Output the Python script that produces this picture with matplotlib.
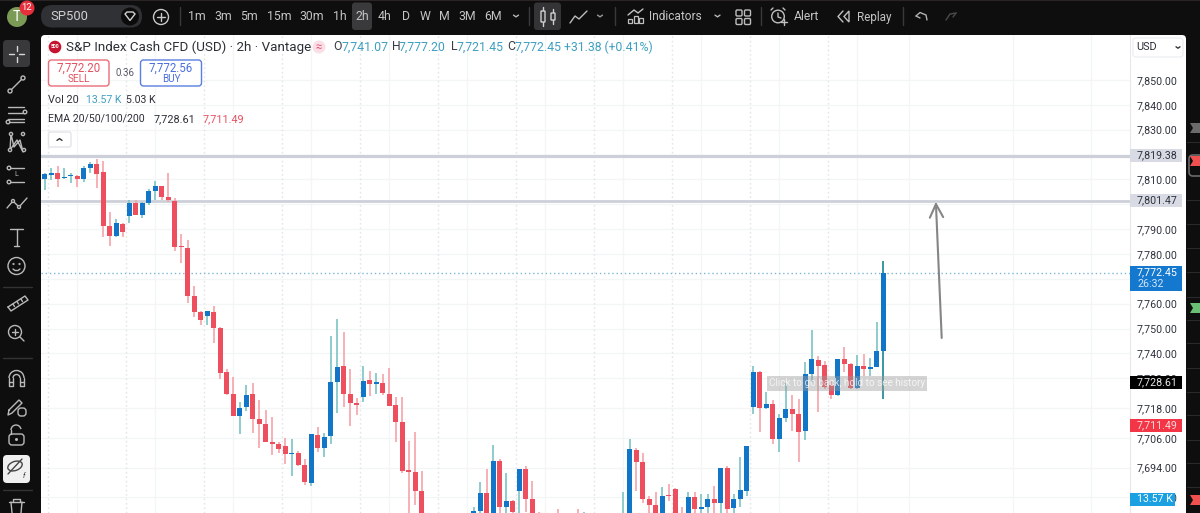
from __future__ import annotations

import matplotlib

matplotlib.use("Agg")
import matplotlib.pyplot as plt
import numpy as np
from matplotlib.patches import Arc, Circle, Ellipse, FancyBboxPatch, Polygon, Rectangle

nan = float("nan")

# bars that sit completely below the visible window are nan
opens = [
    7810.0, 7811.9, 7812.4, 7810.4, 7811.4, 7811.4, 7810.3, 7814.4, 7816.1, 7813.0,
    7791.1, 7787.2, 7792.0, 7795.2, 7800.4, 7795.7, 7800.7, 7805.5, 7807.2, 7802.9,
    7801.5, 7783.2, 7782.5, 7763.2, 7756.5, 7755.0, 7756.5, 7750.1, 7732.4, 7723.5,
    7714.9, 7718.3, 7723.5, 7713.4, 7711.7, 7704.3, 7703.7, 7702.6, 7699.4, 7700.0,
    7695.1, 7687.8, 7707.0, 7702.1, 7706.6, 7728.6, 7734.8, 7723.5, 7720.2, 7722.3,
    7729.2, 7727.8, 7727.9, 7723.8, 7719.1, 7712.5, 7692.8, 7692.3, 7684.7, nan,
    nan, nan, nan, nan, nan, nan, 7670.0, 7676.5, 7683.8, 7668.0,
    7696.5, 7678.3, 7680.4, 7684.7, 7693.4, 7681.5, 7674.0, nan, nan, 7674.0,
    nan, nan, 7674.0, 7670.0, nan, nan, nan, nan, nan, 7665.0,
    7670.0, 7701.1, 7696.4, 7681.2, 7679.1, 7672.0, 7683.0, 7685.3, 7674.0, 7674.0,
    7682.0, 7677.5, 7678.0, 7681.2, 7679.9, 7693.8, 7677.9, 7681.2, 7684.8, 7718.6,
    7732.4, 7717.9, 7719.8, 7705.5, 7714.1, 7717.6, 7715.7, 7708.8, 7731.7, 7737.3,
    7735.2, 7727.3, 7723.2, 7737.6, 7735.9, 7726.1, 7734.9, 7733.6, 7734.5, 7741.07,
]
highs = [
    7812.6, 7814.4, 7815.4, 7814.4, 7812.7, 7811.8, 7815.4, 7817.1, 7818.1, 7817.4,
    7796.9, 7794.2, 7792.6, 7801.7, 7801.7, 7801.0, 7806.0, 7809.5, 7807.5, 7812.7,
    7802.6, 7788.0, 7785.6, 7767.1, 7757.2, 7757.2, 7759.2, 7750.5, 7733.6, 7730.6,
    7720.3, 7727.1, 7727.9, 7721.2, 7717.4, 7714.3, 7704.5, 7706.1, 7705.5, 7700.7,
    7697.4, 7707.5, 7710.5, 7708.1, 7747.0, 7753.8, 7748.5, 7733.6, 7721.9, 7734.9,
    7732.9, 7732.0, 7731.7, 7734.0, 7722.4, 7722.6, 7704.7, 7708.5, 7692.8, nan,
    nan, nan, nan, nan, nan, nan, 7678.3, 7688.3, 7693.4, 7703.1,
    7697.3, 7691.7, 7681.0, 7693.4, 7694.6, 7688.6, 7676.3, nan, nan, 7677.2,
    nan, nan, 7677.2, 7676.3, nan, nan, nan, nan, nan, 7684.3,
    7705.5, 7701.8, 7699.8, 7682.6, 7684.1, 7686.3, 7687.4, 7685.9, 7678.3, 7684.1,
    7684.1, 7683.4, 7683.6, 7686.6, 7693.9, 7694.8, 7683.4, 7698.2, 7702.8, 7734.9,
    7733.0, 7724.3, 7721.2, 7715.6, 7727.9, 7723.2, 7721.6, 7736.4, 7749.4, 7738.9,
    7737.1, 7729.0, 7737.6, 7742.4, 7736.0, 7739.2, 7739.9, 7738.0, 7752.8, 7777.20,
]
lows = [
    7805.7, 7809.8, 7807.1, 7810.0, 7808.4, 7807.1, 7809.1, 7812.4, 7806.4, 7786.9,
    7783.3, 7786.7, 7786.7, 7792.6, 7795.7, 7794.6, 7799.7, 7801.7, 7801.7, 7801.0,
    7781.3, 7776.5, 7760.1, 7754.8, 7751.4, 7751.4, 7744.0, 7729.6, 7723.1, 7714.9,
    7707.4, 7716.9, 7707.8, 7702.1, 7704.2, 7699.1, 7699.8, 7695.6, 7690.8, 7694.7,
    7686.9, 7686.8, 7700.4, 7698.4, 7703.5, 7715.9, 7718.6, 7710.8, 7715.2, 7720.3,
    7722.8, 7723.6, 7723.2, 7718.8, 7704.2, 7691.7, 7670.0, 7679.0, 7668.0, nan,
    nan, nan, nan, nan, nan, nan, 7668.0, 7672.0, 7667.0, 7665.0,
    7674.0, 7674.0, 7672.0, 7674.0, 7676.3, 7668.0, 7665.0, nan, nan, 7666.0,
    nan, nan, 7667.0, 7666.0, nan, nan, nan, nan, nan, 7662.0,
    7667.0, 7684.7, 7679.6, 7674.0, 7669.0, 7670.0, 7680.7, 7669.0, 7668.0, 7671.0,
    7675.0, 7674.0, 7675.7, 7674.0, 7674.0, 7674.0, 7675.7, 7678.0, 7682.6, 7715.5,
    7708.2, 7717.8, 7703.5, 7700.2, 7712.5, 7708.8, 7696.2, 7705.1, 7728.6, 7716.5,
    7725.5, 7721.6, 7722.8, 7732.6, 7725.5, 7725.5, 7730.9, 7730.9, 7734.4, 7721.45,
]
closes = [
    7812.2, 7812.4, 7810.0, 7811.1, 7811.9, 7810.0, 7814.4, 7816.1, 7812.3, 7791.2,
    7787.1, 7792.3, 7789.0, 7800.4, 7795.7, 7800.7, 7805.5, 7807.2, 7803.0, 7801.7,
    7782.7, 7782.8, 7763.2, 7756.5, 7753.3, 7756.9, 7750.1, 7732.2, 7723.5, 7714.9,
    7718.2, 7723.2, 7713.4, 7711.7, 7704.2, 7703.7, 7701.7, 7699.4, 7700.0, 7695.1,
    7688.1, 7707.4, 7702.1, 7706.5, 7728.5, 7734.6, 7723.5, 7720.2, 7719.4, 7728.9,
    7727.7, 7728.3, 7723.9, 7718.8, 7712.5, 7692.7, 7692.4, 7684.8, 7672.0, nan,
    nan, nan, nan, nan, nan, nan, 7676.5, 7683.8, 7670.0, 7696.5,
    7678.3, 7680.4, 7676.1, 7693.4, 7681.5, 7670.0, 7668.0, nan, nan, 7670.0,
    nan, nan, 7670.0, 7674.0, nan, nan, nan, nan, nan, 7672.0,
    7701.4, 7696.4, 7681.2, 7679.0, 7672.0, 7682.6, 7682.6, 7672.0, 7670.0, 7682.0,
    7677.5, 7678.0, 7681.2, 7679.9, 7693.8, 7677.5, 7681.2, 7685.0, 7702.7, 7732.4,
    7718.0, 7719.8, 7705.5, 7713.9, 7717.6, 7715.7, 7708.5, 7731.6, 7737.6, 7735.1,
    7726.3, 7723.2, 7737.6, 7735.7, 7726.1, 7734.9, 7733.6, 7734.5, 7741.0, 7772.45,
]

grid_prices = [7850, 7840, 7830, 7820, 7810, 7800, 7790, 7780, 7770, 7760, 7750, 7740,
               7730, 7718, 7706, 7694, 7682]
# these three sit fully under the level and last-price tags, so they carry no tick text
hidden_ticks = [7820, 7800, 7770]
level_prices = [7819.38, 7801.47]
last_price = 7772.45
intervals = ["1m", "3m", "5m", "15m", "30m", "1h", "2h", "4h", "D", "W", "M", "3M", "6M"]
interval_x = [197, 223, 249, 279, 312, 340, 362, 385, 406, 425, 444, 467, 493]
dotted_grid_bars = [0.5, 12.5, 24.5, 36.5, 48.5, 60.5, 72.5, 84.5, 96.5, 108.5, 120.5]
solid_grid_bars = [5, 17, 29, 41, 53, 65, 77, 89, 101, 113, 125, 133, 149, 161]

DARK = "#0e0e0f"
ICON = "#b9b9b9"
UP = "#1175c8"
DOWN = "#ee4f5f"
UP_WICK = "#7cc3c6"
DOWN_WICK = "#f6a3aa"
TEAL = "#3f9fc0"
INK = "#2a2e39"
FONT = "Roboto"
AXIS_SIZE = 7.7
W, H = 1200, 513

plt.rcParams["font.family"] = [FONT, "DejaVu Sans"]

fig = plt.figure(figsize=(W / 100, H / 100), dpi=100, facecolor=DARK)

# back layer: dark frame and white panel, in pixels
back = fig.add_axes([0, 0, 1, 1], zorder=0)
back.set_xlim(0, W)
back.set_ylim(H, 0)
back.axis("off")
back.add_patch(FancyBboxPatch((41, 35), 1145, 500, boxstyle="round,pad=0,rounding_size=4",
                              fc="white", ec="none"))

# chart layer
left, right, top, bottom = 41, 1130, 35, 513
ax = fig.add_axes([left / W, 1 - bottom / H, (right - left) / W, (bottom - top) / H], zorder=1)
ax.patch.set_alpha(0)
ax.set_xlim(-0.57, 166.97)
ax.set_ylim(7675.76, 7868.1)
for spine in ax.spines.values():
    spine.set_visible(False)
ax.spines["right"].set_visible(True)
ax.spines["right"].set_color("#e6e8ec")
ax.yaxis.tick_right()
ax.set_yticks(grid_prices)
ax.set_yticklabels(["" if t in hidden_ticks else f"{t:,.2f}" for t in grid_prices],
                   fontsize=AXIS_SIZE, color="#2f333d")
ax.tick_params(axis="y", length=0, pad=5)
ax.set_xticks([])
ax.grid(False)
for t in grid_prices:
    ax.axhline(t, color="#f4f5f7", lw=1, zorder=0)
for b in solid_grid_bars:
    ax.axvline(b, color="#f4f5f7", lw=1, zorder=0)
for b in dotted_grid_bars:
    ax.axvline(b, color="#e3e5ea", lw=1, ls=(0, (1.2, 2)), zorder=0)

bar_index = np.arange(len(opens))
o, h, l, c = map(np.array, (opens, highs, lows, closes))
rising = c >= o
ax.vlines(bar_index, l, h, colors=np.where(rising, UP_WICK, DOWN_WICK).tolist(), lw=1.2, zorder=2)
ax.bar(bar_index, np.maximum(np.abs(c - o), 0.5), bottom=np.minimum(o, c), width=0.74,
       color=np.where(rising, UP, DOWN).tolist(), linewidth=0, zorder=3)
ax.vlines(bar_index[-1], l[-1], h[-1], colors="#2f8f9a", lw=1.2, zorder=2)

ax.axhline(level_prices[0], color="#cdd0d8", lw=2.3, zorder=1)
ax.axhline(level_prices[1], color="#cdd0d8", lw=2.0, zorder=1)
ax.axhline(last_price, color="#7db8d6", lw=1, ls=(0, (1, 2)), zorder=1)
ax.annotate("", xy=(137.1, 7801.0), xytext=(138, 7746.2),
            arrowprops=dict(arrowstyle="->", color="#858585", lw=1.5, mutation_scale=24,
                            shrinkA=0, shrinkB=0), zorder=4)

# front layer: toolbars, legend and price labels, in pixels
ui = fig.add_axes([0, 0, 1, 1], zorder=2)
ui.set_xlim(0, W)
ui.set_ylim(H, 0)
ui.axis("off")
ui.patch.set_alpha(0)


def text(x, y, s, size=8.5, color=INK, ha="left", weight="normal", **kw):
    return ui.text(x, y, s, fontsize=size, color=color, ha=ha, va="center", weight=weight, **kw)


def box(x0, y0, x1, y1, fc="none", ec="none", lw=1.0, r=3.0, z=2):
    ui.add_patch(FancyBboxPatch((x0, y0), x1 - x0, y1 - y0, boxstyle=f"round,pad=0,rounding_size={r}",
                                fc=fc, ec=ec, lw=lw, zorder=z))


def line(xs, ys, color=ICON, lw=1.0, z=3):
    ui.plot(xs, ys, color=color, lw=lw, solid_capstyle="round", zorder=z)


def ring(x, y, r, color=ICON, lw=1.0, fc="none", z=3):
    ui.add_patch(Circle((x, y), r, fc=fc, ec=color, lw=lw, zorder=z))


def chevron(x, y, color=ICON, size=2.5, up=False):
    d = -size * 0.7 if up else size * 0.7
    line([x - size, x, x + size], [y - d / 2, y + d / 2, y - d / 2], color=color, lw=1.0)


# top toolbar
ui.add_patch(Rectangle((0, 0), W, 33, fc=DARK, ec="none", zorder=1))
ui.add_patch(Rectangle((0, 0), W, 1.2, fc="#2b2426", ec="none", zorder=1))
ring(17, 17, 10, color="none", fc="#7b9a55")
text(17, 17, "T", size=10, color="white", ha="center")
ring(27, 8, 7.5, color="none", fc="#e5303b", z=4)
text(27, 8, "12", size=6.8, color="white", ha="center", zorder=5)
box(41, 5, 142, 27.5, fc="#303134", r=11)
text(50.5, 16.5, "SP500", size=9.4, color="#d0d0d0")
ring(130, 16.5, 9, color="none", fc="#0b0b0b")
ui.add_patch(Polygon([[125, 14], [127, 12], [133, 12], [135, 14], [130, 20.5]], closed=True,
                     fc="none", ec="#d0d0d0", lw=1, zorder=4))
ring(161, 17, 7.5, color="#c9c9c9", lw=1.0)
line([161, 161], [13, 21], color="#c9c9c9")
line([157, 165], [17, 17], color="#c9c9c9")
line([180, 180], [7, 25], color="#3a3a3a")
box(352, 2.5, 372, 30, fc="#3a3a3c", r=3)
for label, px in zip(intervals, interval_x):
    text(px, 17, label, size=8.8, color="#c4c4c4", ha="center")
chevron(516, 16)
line([529, 529], [7, 25], color="#3a3a3a")
box(534, 2.5, 561, 30, fc="#343436", r=3)
line([543, 543], [7, 26], color="#cfcfcf")
line([553, 553], [9, 24], color="#cfcfcf")
box(541, 11, 545, 22, fc="#343436", ec="#cfcfcf", lw=1, r=0.5, z=4)
box(551, 13, 555, 20, fc="#343436", ec="#cfcfcf", lw=1, r=0.5, z=4)
line([570, 575, 579, 587], [23, 16, 19, 11], color="#bdbdbd")
chevron(600, 16, color="#9a9a9a")
line([615, 615], [7, 25], color="#3a3a3a")
line([628, 634, 638, 643], [15, 10, 13, 9], color="#c0c0c0")
for ix, top_y in zip((628, 633.5, 639), (19, 16, 18)):
    ui.add_patch(Rectangle((ix, top_y), 4, 23 - top_y, fc="none", ec="#c0c0c0", lw=0.9, zorder=3))
text(649, 17, "Indicators", size=8.6, color="#c4c4c4")
chevron(717.5, 16)
for gx in (736, 744.5):
    for gy in (10, 18.5):
        box(gx, gy, gx + 6, gy + 6, ec="#bdbdbd", r=1.2)
line([761, 761], [7, 25], color="#3a3a3a")
ring(778, 16.5, 6.3, color="#c0c0c0")
line([778, 778, 781], [13, 17, 18], color="#c0c0c0")
line([771, 773], [10, 8], color="#c0c0c0")
line([785, 783], [10, 8], color="#c0c0c0")
line([781, 787], [22, 22], color="#c0c0c0")
line([784, 784], [19, 25], color="#c0c0c0")
text(794, 17, "Alert", size=8.7, color="#c4c4c4")
line([843, 838, 843], [11, 16.5, 22], color="#c0c0c0")
ui.add_patch(Polygon([[849, 11], [844, 16.5], [849, 22]], closed=True, fc="none", ec="#c0c0c0", lw=1, zorder=3))
text(857, 17, "Replay", size=8.4, color="#c4c4c4")
line([902.5, 902.5], [7, 25], color="#3a3a3a")
line([916, 920, 926, 927], [16, 12.5, 15, 20], color="#b0b0b0")
line([916, 920], [16, 18], color="#b0b0b0")
line([946, 950, 956], [20, 14, 13], color="#4a4a4a")
line([956, 953], [13, 17], color="#4a4a4a")

# left toolbar
box(3, 40, 30, 67, fc="#39393b", r=4)
for xa, xb, ya, yb in ((9, 14, 54, 54), (19, 24, 54, 54), (16.5, 16.5, 46, 51), (16.5, 16.5, 57, 62)):
    line([xa, xb], [ya, yb], color="#d8d8d8")
line([11, 22], [90, 79], color=ICON)
ring(10, 91, 2, fc=DARK)
ring(23, 78, 2, fc=DARK)
for fy, xa in ((107, 8), (113, 8), (119, 8), (122, 8)):
    line([xa, 24], [fy, fy], color=ICON)
ring(25, 112, 1.8, fc=DARK)
ring(8, 122, 1.8, fc=DARK)
line([11, 14, 20, 23, 17, 10, 11], [134, 147, 140, 152, 140, 150, 134], color=ICON)
for mx, my in ((11, 134), (23, 134), (10, 150), (24, 150)):
    ring(mx, my, 1.6, fc=DARK)
line([10, 24], [168, 168], color=ICON)
line([10, 24], [182, 182], color=ICON)
ring(9, 168, 1.8, fc=DARK)
ring(9, 182, 1.8, fc=DARK)
text(16.5, 175, "L", size=5, color=ICON, ha="center")
line([7, 13, 19, 27], [208, 201, 207, 198], color=ICON)
ring(13, 201, 1.5, fc=DARK)
ring(19, 207, 1.5, fc=DARK)
line([10, 23], [229, 229], color=ICON)
line([16.5, 16.5], [229, 246], color=ICON)
line([14, 19], [246, 246], color=ICON)
ring(16.5, 266, 8.5)
ring(13.5, 264, 0.4)
ring(19.5, 264, 0.4)
line([13, 15, 18, 20], [269, 270.5, 270.5, 269], color=ICON)
line([3, 32], [287, 287], color="#333333")
line([8, 25, 28, 11, 8], [307, 296, 300, 311, 307], color=ICON)
for tx, ty in ((13, 304), (17, 301.5), (21, 299)):
    line([tx, tx + 1.5], [ty, ty + 2.5], color=ICON)
ring(15, 332, 6.5)
line([12, 18], [332, 332], color=ICON)
line([15, 15], [329, 335], color=ICON)
line([20, 24], [337, 341], color=ICON)
line([3, 32], [358, 358], color="#333333")
# magnet: outer and inner outline
ui.add_patch(Arc((16.5, 378), 15, 15, theta1=180, theta2=360, ec=ICON, lw=1, zorder=3))
ui.add_patch(Arc((16.5, 378), 7, 7, theta1=180, theta2=360, ec=ICON, lw=1, zorder=3))
line([9, 9, 13, 13], [378, 386, 386, 378], color=ICON)
line([20, 20, 24, 24], [378, 386, 386, 378], color=ICON)
line([9, 13], [382, 382], color=ICON)
line([20, 24], [382, 382], color=ICON)
line([9, 19, 22, 12, 8, 9], [410, 400, 403, 413, 415, 410], color=ICON)
box(18, 408, 26, 416, ec=ICON)
line([11, 11], [434, 430], color=ICON)
ui.add_patch(Arc((16, 430), 10, 10, theta1=180, theta2=350, ec=ICON, lw=1, zorder=3))
box(9, 434, 24, 445, ec=ICON)
ring(16.5, 439.5, 0.8, fc=ICON)
box(3, 455, 30, 483, fc="#f0f0f0", r=4)
ui.add_patch(Ellipse((15, 466), 15, 9, angle=-20, fc="none", ec="#444444", lw=1, zorder=3))
line([8, 22], [474, 459], color="#444444")
text(24, 476, "f", size=5, color="#333333", ha="center", style="italic")
line([3, 32], [490, 490], color="#333333")
line([9, 24], [502, 502], color=ICON)
line([13, 13, 20, 20], [502, 499, 499, 502], color=ICON)
line([11, 12], [502, 513], color=ICON)
line([22, 21], [502, 513], color=ICON)

# right strip
for y in (142, 200, 224, 248, 272, 297, 320, 343, 368, 392, 415, 440, 463, 487):
    line([1187, W], [y, y], color="#2a2a2a", lw=0.8)
for y, color in ((128, "#6b6b6b"), (161, "#f15050"), (308, "#69c074"), (500, "#f15050")):
    ui.add_patch(Polygon([[1200, y - 5], [1190, y - 5], [1193, y], [1190, y + 5], [1200, y + 5]],
                         fc=color, ec="none", zorder=3))
box(1189, 155, 1210, 176, ec="#6a6a6a", lw=1.2, r=4)

# legend
ring(55, 47, 6.3, color="none", fc="#c41230")
text(55, 47, "500", size=3.6, color="white", ha="center", weight="bold", zorder=5)
text(65.5, 47, "S&P Index Cash CFD (USD) · 2h · Vantage", size=9.6, color="#2c2f36")
ring(319, 47, 6.5, color="none", fc="#fbdfe6")
text(319, 47, "≈", size=8, color="#e0557a", ha="center", zorder=5)
for letter, lx, value, vx in (("O", 333, "7,741.07", 342), ("H", 392, "7,777.20", 399),
                              ("L", 451, "7,721.45", 457), ("C", 507, "7,772.45", 515)):
    text(lx, 47, letter, size=8.8, color="#3a3d45")
    text(vx, 47, value, size=8.8, color=TEAL)
text(564, 47, "+31.38 (+0.41%)", size=8.8, color=TEAL)

box(48.5, 60, 109, 86, fc="white", ec="#ea6c78", r=3, lw=1)
text(78.7, 68, "7,772.20", size=8.3, color="#e2505f", ha="center")
text(78.7, 79, "SELL", size=7.2, color="#e2505f", ha="center")
text(124.5, 73, "0.36", size=7, color="#555a66", ha="center")
box(140.5, 60, 201.5, 86, fc="white", ec="#5b7fe0", r=3, lw=1)
text(171, 68, "7,772.56", size=8.3, color="#4a6fdc", ha="center")
text(171, 79, "BUY", size=7.2, color="#4a6fdc", ha="center")
text(48, 100, "Vol 20", size=7.8, color="#2c2f36")
text(85.5, 100, "13.57 K", size=7.6, color=TEAL)
text(126.5, 100, "5.03 K", size=7.6, color="#2c2f36")
text(48, 119, "EMA 20/50/100/200", size=7.6, color="#2c2f36")
text(153.5, 119, "7,728.61", size=7.8, color="#2c2f36")
text(203, 119, "7,711.49", size=7.8, color="#e5505f")
box(48.5, 132, 71, 147, fc="white", ec="#e2e4e9", r=2, lw=1)
chevron(59.5, 139.5, color="#333333", up=True)

# tooltip over the candles
ui.add_patch(Rectangle((767, 376), 160, 15, fc="#9a9a9a", alpha=0.42, ec="none", zorder=3))
text(847, 383.5, "Click to go back, hold to see history", size=7.1, color="white", ha="center",
     alpha=0.75, zorder=4)

# price axis labels
box(1133, 38, 1183, 57, fc="white", ec="#eef0f3", r=3)
text(1136, 47.5, "USD", size=7.8, color="#2c2f36")
chevron(1178, 47.5, color="#333333", size=2)


def price_label(y0, y1, x1, fc):
    ui.add_patch(Rectangle((1130, y0), x1 - 1130, y1 - y0, fc=fc, ec="none", zorder=3))


price_label(149, 162, 1182, "#d8dbe3")
text(1137, 155.5, "7,819.38", size=AXIS_SIZE, color="#2f333d", zorder=4)
price_label(194, 207, 1182, "#d8dbe3")
text(1137, 200.5, "7,801.47", size=AXIS_SIZE, color="#2f333d", zorder=4)
price_label(266, 291, 1182, "#1478cf")
text(1137, 272.5, "7,772.45", size=AXIS_SIZE, color="white", zorder=4)
text(1137, 284, "26:32", size=AXIS_SIZE, color="#cfe5f7", zorder=4)
price_label(375.5, 388.5, 1182, "#000000")
text(1137, 382, "7,728.61", size=AXIS_SIZE, color="#e8e8e8", zorder=4)
price_label(419, 432, 1182, "#f23645")
text(1137, 425.5, "7,711.49", size=AXIS_SIZE, color="#ffd9dd", zorder=4)
price_label(493, 506, 1175, "#1ba1e2")
text(1137, 499.5, "13.57 K", size=AXIS_SIZE, color="white", zorder=4)

fig.savefig("out.png", dpi=100, facecolor=fig.get_facecolor())
plt.close(fig)
